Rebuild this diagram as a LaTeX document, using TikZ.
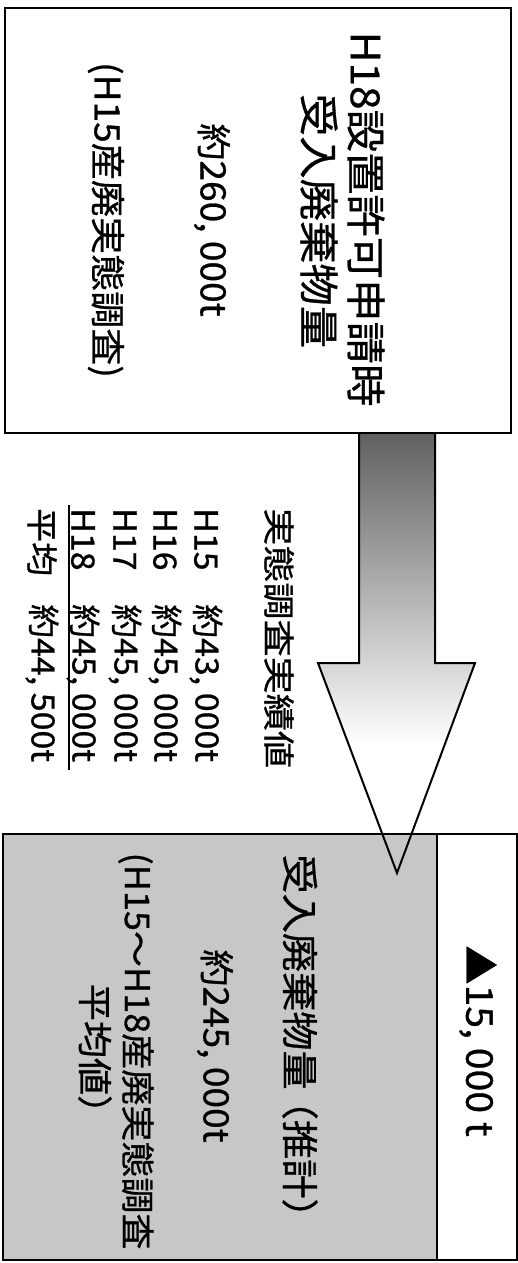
\documentclass[tikz,border=0pt]{standalone}
\usepackage{fontspec}
\setmainfont{Noto Sans CJK JP}[FakeStretch=1.06,FakeBold=0.8]
\newfontfamily\jpwide{Noto Sans CJK JP}[FakeStretch=1.16,FakeBold=0.8]
\begin{document}
\begin{tikzpicture}[x=1pt,y=1pt,line join=miter,
  boxline/.style={draw=black,line width=2.2pt},
  vtext/.style={rotate=-90,inner sep=0pt,text=black},
  big/.style={font=\fontsize{40}{44}\selectfont},
  mid/.style={font=\fontsize{35}{40}\selectfont},
  tab/.style={font=\fontsize{32}{36}\selectfont}]
\useasboundingbox (0,0) rectangle (518,-1263);
\fill[white] (0,0) rectangle (518,-1263);
% arrow shading
\def\arrowpath{(359,-434) -- (359,-663) -- (318,-663) -- (397,-873) -- (475,-663) -- (435,-663) -- (435,-434) -- cycle}
\begin{scope}
  \clip \arrowpath;
  \fill[white] (300,-430) rectangle (480,-880);
  \shade[top color=black!62,middle color=black!30,bottom color=white] (300,-434) rectangle (480,-745);
\end{scope}
% top box
\node[boxline,fill=white,minimum width=506pt,minimum height=425pt,inner sep=0pt] (topbox) at (258,-220.5) {};
% bottom boxes
\node[boxline,fill=black!22,minimum width=434pt,minimum height=426pt,inner sep=0pt] (graybox) at (220,-1047) {};
\node[boxline,fill=white,minimum width=80pt,minimum height=426pt,inner sep=0pt] (whitebox) at (477,-1047) {};
% arrow part inside gray box
\begin{scope}
  \clip \arrowpath;
  \fill[black!22] (300,-835.5) rectangle (480,-880);
\end{scope}
\draw[line width=2pt] (359,-434) -- (359,-663) -- (318,-663) -- (397,-873) -- (475,-663) -- (435,-663) -- (435,-434);
% top box texts
\node[vtext,big] (t1) at (366,-219) {H18設置許可申請時};
\node[vtext,big] (t2) at (319,-221) {受入廃棄物量};
\node[vtext,mid] (t3) at (212,-220) {約260, 000t};
\node[vtext,mid] (t4) at (106,-220) {(H15産廃実態調査)};
% middle texts
\node[vtext,font=\jpwide\fontsize{32}{36}\selectfont,anchor=west] (m0) at (279,-508) {実態調査実績値};
\node[vtext,tab,anchor=west] (r1a) at (206,-508) {H15};
\node[vtext,tab,anchor=west] (r1b) at (206,-604) {約43, 000t};
\node[vtext,tab,anchor=west] (r2a) at (165,-508) {H16};
\node[vtext,tab,anchor=west] (r2b) at (165,-604) {約45, 000t};
\node[vtext,tab,anchor=west] (r3a) at (125,-508) {H17};
\node[vtext,tab,anchor=west] (r3b) at (125,-604) {約45, 000t};
\node[vtext,tab,anchor=west] (r4a) at (83,-508) {H18};
\node[vtext,tab,anchor=west] (r4b) at (83,-604) {約45, 000t};
\node[vtext,tab,anchor=west] (r5a) at (42,-508) {平均};
\node[vtext,tab,anchor=west] (r5b) at (42,-604) {約44, 500t};
\coordinate (ulA) at (69,-505);
\coordinate (ulB) at (69,-770);
\draw[line width=1.2pt] (ulA) -- (ulB);
% bottom texts
\node[vtext,font=\fontsize{37}{42}\selectfont] (b1) at (300,-1046) {受入廃棄物量\kern-9pt（推計）};
\node[vtext,mid] (b2) at (215,-1046) {約245, 000t};
\node[vtext,font=\fontsize{34}{40}\selectfont] (b3) at (136,-1051) {(H15～H18産廃実態調査};
\node[vtext,mid] (b4) at (95,-1058) {平均値）};
\node[vtext,font=\fontsize{37}{42}\selectfont] (w1) at (478,-1041) {▲15, 000 t};
\end{tikzpicture}
\end{document}
